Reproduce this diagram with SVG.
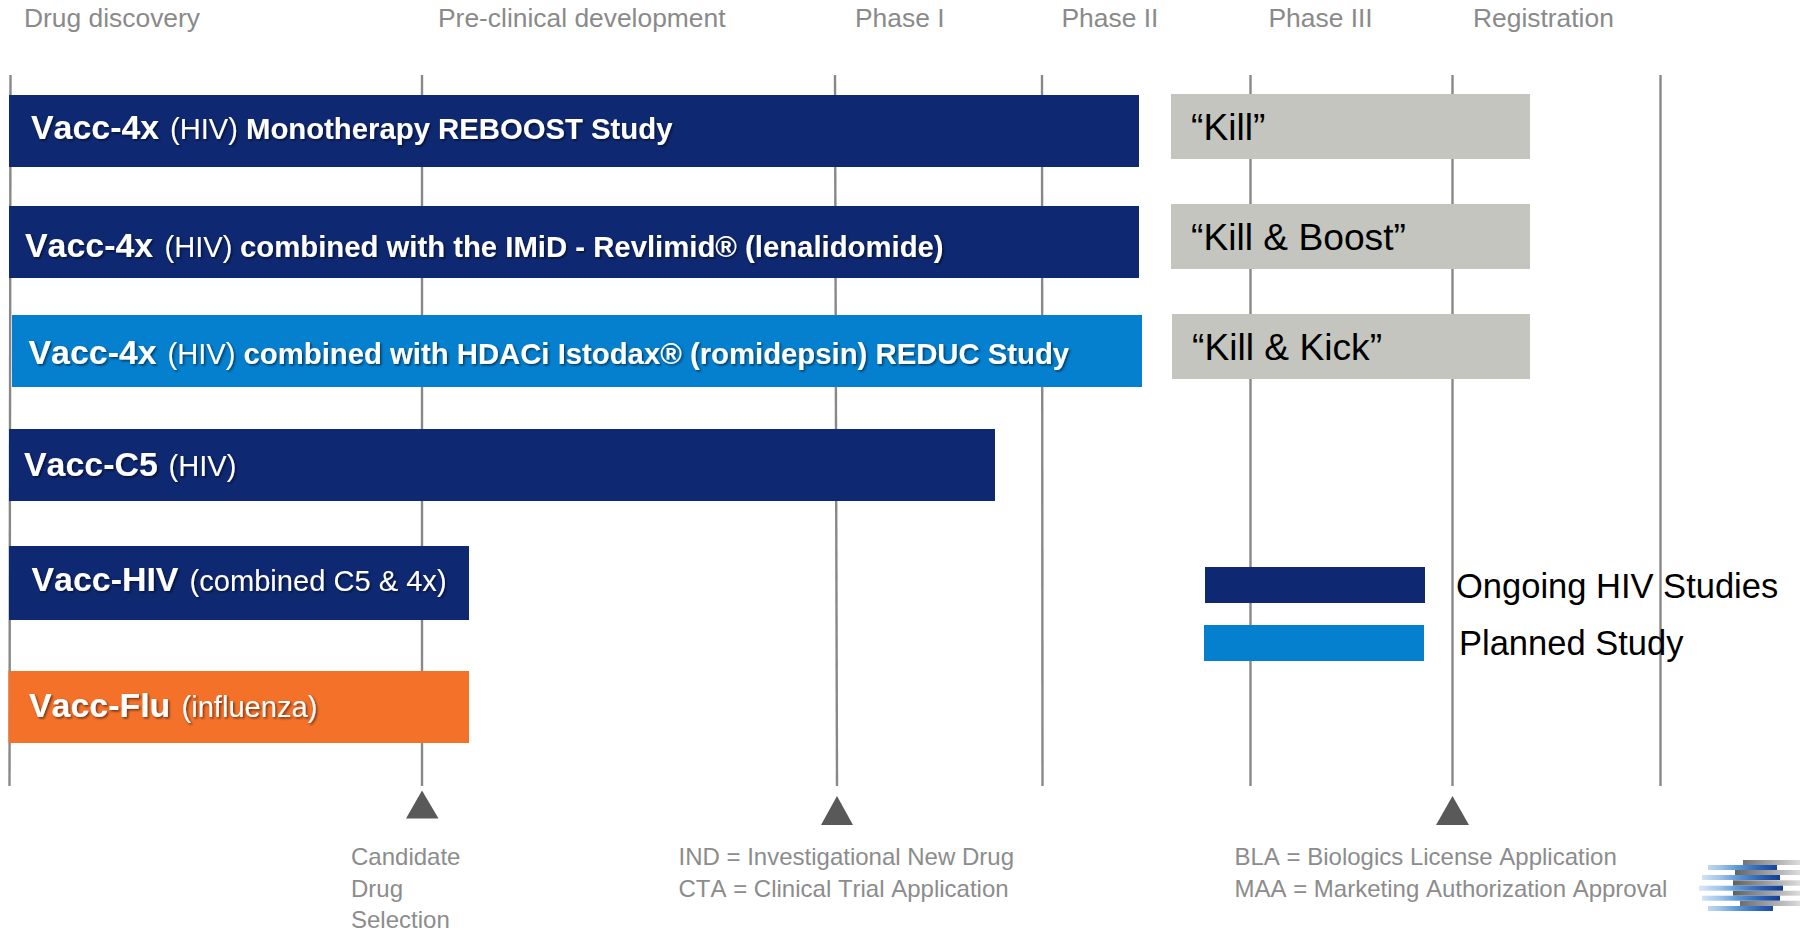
<svg xmlns="http://www.w3.org/2000/svg" width="1800" height="931" viewBox="0 0 1800 931">
<style>
text{font-family:"Liberation Sans",Arial,sans-serif;font-kerning:none}
.grid{stroke:#888;stroke-width:2.4;fill:none}
.hd{font-size:26.4px;fill:#8a8a8a}
.ft{font-size:24px;fill:#8c8c8c}
.tri{fill:#595959}
.navy{fill:#0e2872}
.sky{fill:#0580cf}
.orange{fill:#f4712a}
.grey{fill:#c4c5bf}
.lab{fill:#fff;filter:url(#sh)}
.b{font-weight:700;font-size:33.9px}
.r{font-size:29.1px}
.m{font-weight:700;font-size:29.3px}
.kk{font-size:37.2px;fill:#000}
.lg{font-size:34.5px;fill:#000}
.bl{fill:url(#gb)}
.gr{fill:url(#gg)}
</style>
<defs>
<filter id="sh" x="-5%" y="-30%" width="110%" height="170%"><feDropShadow dx="1.5" dy="1.5" stdDeviation="1" flood-color="#000" flood-opacity="0.55"/></filter>
<filter id="soft" x="-5%" y="-5%" width="110%" height="110%"><feGaussianBlur stdDeviation="0.4"/></filter>
<linearGradient id="gb" gradientUnits="userSpaceOnUse" x1="1699" y1="0" x2="1783" y2="0"><stop offset="0" stop-color="#dbe8f6"/><stop offset="0.25" stop-color="#9fc4ea"/><stop offset="0.45" stop-color="#5c9ad8"/><stop offset="0.75" stop-color="#2a5fb4"/><stop offset="1" stop-color="#12388e"/></linearGradient>
<linearGradient id="gg" gradientUnits="userSpaceOnUse" x1="1733" y1="0" x2="1800" y2="0"><stop offset="0" stop-color="#606060"/><stop offset="0.7" stop-color="#b5b5b5"/><stop offset="1" stop-color="#dcdcdc"/></linearGradient>
</defs>
<rect width="1800" height="931" fill="#fff"/>
<g id="headers">
<text class="hd" x="24" y="27">Drug discovery</text>
<text class="hd" x="438" y="27">Pre-clinical development</text>
<text class="hd" x="855" y="27">Phase I</text>
<text class="hd" x="1061.5" y="27">Phase II</text>
<text class="hd" x="1268.5" y="27">Phase III</text>
<text class="hd" x="1473" y="27">Registration</text>
</g>
<g id="connectors">
<line class="grid" x1="10.5" y1="75" x2="9.5" y2="786"/>
<line class="grid" x1="422" y1="75" x2="422" y2="786"/>
<line class="grid" x1="835" y1="75" x2="837" y2="786"/>
<line class="grid" x1="1042" y1="75" x2="1042.5" y2="786"/>
<line class="grid" x1="1250.5" y1="75" x2="1250.5" y2="786"/>
<line class="grid" x1="1452.5" y1="75" x2="1452.5" y2="786"/>
<line class="grid" x1="1660.5" y1="75" x2="1660.5" y2="786"/>
</g>
<g id="bar-reboost"><rect class="navy" x="9" y="95" width="1130" height="72"/>
<text class="lab" y="139"><tspan class="b" x="31">Vacc-4x</tspan><tspan class="r" x="170">(HIV)</tspan><tspan class="m" x="246">Monotherapy REBOOST Study</tspan></text></g>
<g id="bar-revlimid"><rect class="navy" x="9" y="206" width="1130" height="72"/>
<text class="lab" y="257"><tspan class="b" x="25">Vacc-4x</tspan><tspan class="r" x="164.5">(HIV)</tspan><tspan class="m" x="240">combined with the IMiD - Revlimid® (lenalidomide)</tspan></text></g>
<g id="bar-reduc"><rect class="sky" x="12" y="315" width="1130" height="72"/>
<text class="lab" y="364"><tspan class="b" x="28.5">Vacc-4x</tspan><tspan class="r" x="167.5">(HIV)</tspan><tspan class="m" x="243.5">combined with HDACi Istodax® (romidepsin) REDUC Study</tspan></text></g>
<g id="bar-c5"><rect class="navy" x="9" y="429" width="986" height="72"/>
<text class="lab" y="476"><tspan class="b" x="24">Vacc-C5</tspan><tspan class="r" x="168.5">(HIV)</tspan></text></g>
<g id="bar-hiv"><rect class="navy" x="9" y="546" width="460" height="74"/>
<text class="lab" y="591"><tspan class="b" x="31.5">Vacc-HIV</tspan><tspan class="r" x="189.5">(combined C5 &amp; 4x)</tspan></text></g>
<g id="bar-flu"><rect class="orange" x="8.5" y="671" width="460.5" height="72"/>
<text class="lab" y="717"><tspan class="b" x="29">Vacc-Flu</tspan><tspan class="r" x="181.5">(influenza)</tspan></text></g>
<g id="box-kill"><rect class="grey" x="1171" y="94" width="359" height="65"/><text class="kk" x="1191" y="140">“Kill”</text></g>
<g id="box-kill-boost"><rect class="grey" x="1171" y="204" width="359" height="65"/><text class="kk" x="1191" y="250">“Kill &amp; Boost”</text></g>
<g id="box-kill-kick"><rect class="grey" x="1172" y="314" width="358" height="65"/><text class="kk" x="1192" y="360">“Kill &amp; Kick”</text></g>
<g id="legend-ongoing"><rect class="navy" x="1205" y="567" width="220" height="36"/><text class="lg" x="1456" y="598">Ongoing HIV Studies</text></g>
<g id="legend-planned"><rect class="sky" x="1204" y="625" width="220" height="36"/><text class="lg" x="1459" y="655">Planned Study</text></g>
<g id="milestone-candidate"><polygon class="tri" points="422,790.5 406,818.5 438.5,818.5"/>
<text class="ft" x="351" y="865">Candidate</text><text class="ft" x="351" y="897">Drug</text><text class="ft" x="351" y="928">Selection</text></g>
<g id="milestone-ind"><polygon class="tri" points="837,796 821,825 853,825"/>
<text class="ft" x="678.5" y="865">IND = Investigational New Drug</text><text class="ft" x="678.5" y="897">CTA = Clinical Trial Application</text></g>
<g id="milestone-bla"><polygon class="tri" points="1452.5,796 1436,825 1469,825"/>
<text class="ft" x="1234.5" y="865">BLA = Biologics License Application</text><text class="ft" x="1234.5" y="897">MAA = Marketing Authorization Approval</text></g>
<g id="logo" filter="url(#soft)">
<rect class="gr" x="1743" y="860" width="57" height="5"/>
<rect class="gr" x="1735" y="870" width="65" height="5"/>
<rect class="gr" x="1733" y="880.3" width="67" height="5.4"/>
<rect class="gr" x="1733" y="890.7" width="67" height="5"/>
<rect class="gr" x="1740" y="900.7" width="60" height="5.3"/>
<rect class="bl" x="1708" y="865" width="69" height="5"/>
<rect class="bl" x="1702" y="875" width="78" height="5"/>
<rect class="bl" x="1699" y="885.7" width="84" height="5"/>
<rect class="bl" x="1702" y="895.7" width="78" height="5"/>
<rect class="bl" x="1708" y="906" width="65" height="5"/>
</g>
</svg>
